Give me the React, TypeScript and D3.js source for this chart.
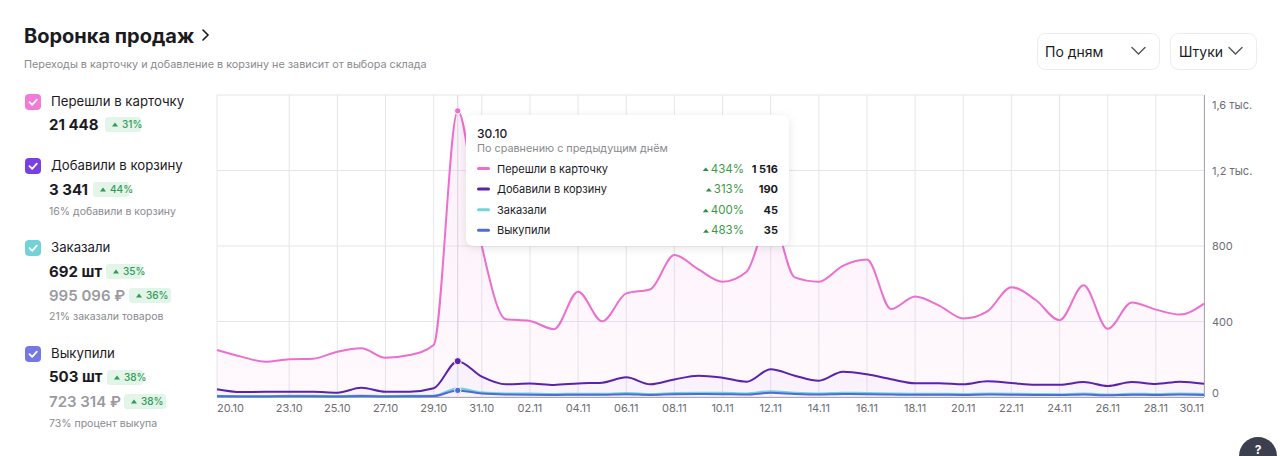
import React from "react";
import * as d3 from "d3";

// 20.10 – 30.11
const dates = [
  "20.10", "21.10", "22.10", "23.10", "24.10", "25.10", "26.10", "27.10", "28.10", "29.10", "30.10", "31.10",
  "01.11", "02.11", "03.11", "04.11", "05.11", "06.11", "07.11", "08.11", "09.11", "10.11", "11.11", "12.11",
  "13.11", "14.11", "15.11", "16.11", "17.11", "18.11", "19.11", "20.11", "21.11", "22.11", "23.11", "24.11",
  "25.11", "26.11", "27.11", "28.11", "29.11", "30.11",
];

const clicks = [
  249, 214, 187, 200, 203, 240, 258, 208, 222, 275, 1516, 800,
  412, 403, 359, 558, 401, 549, 571, 752, 676, 611, 664, 960,
  634, 611, 695, 728, 466, 533, 484, 416, 454, 582, 515, 407,
  592, 361, 501, 463, 437, 495,
];
const carts = [
  41, 26, 28, 28, 28, 23, 49, 28, 28, 46, 190, 108,
  67, 72, 64, 72, 76, 104, 67, 93, 113, 102, 81, 147,
  113, 86, 134, 120, 94, 73, 73, 67, 83, 74, 65, 65,
  79, 58, 79, 69, 81, 70,
];
const orders = [
  5, 4, 4, 5, 5, 4, 7, 4, 5, 6, 45, 24,
  18, 17, 15, 16, 16, 20, 15, 20, 22, 21, 18, 30,
  22, 18, 22, 20, 18, 16, 16, 15, 17, 16, 15, 14,
  17, 12, 16, 15, 17, 15,
];
const buyouts = [
  4, 3, 3, 4, 4, 3, 5, 3, 4, 5, 35, 18,
  13, 12, 11, 12, 12, 15, 11, 15, 16, 15, 13, 22,
  16, 13, 16, 15, 13, 12, 12, 11, 13, 12, 11, 10,
  13, 9, 12, 11, 13, 11,
];

const xTicks = [
  "20.10", "23.10", "25.10", "27.10", "29.10", "31.10", "02.11", "04.11", "06.11", "08.11", "10.11",
  "12.11", "14.11", "16.11", "18.11", "20.11", "22.11", "24.11", "26.11", "28.11", "30.11",
];
const yTicks = [0, 400, 800, 1200, 1600];
const yTickLabels = ["0", "400", "800", "1,2 тыс.", "1,6 тыс."];

const seriesNames = ["Перешли в карточку", "Добавили в корзину", "Заказали", "Выкупили"];
const lineColors = ["#ec6fcf", "#5a22ad", "#74d3d9", "#4f6bd6"];
const boxColors = ["#f27ad8", "#7a3fdf", "#72d2da", "#7477e6"];
const totals = ["21 448", "3 341", "692 шт", "503 шт"];
const totalPct = ["31%", "44%", "35%", "38%"];
const rubTotals = ["", "", "995 096 ₽", "723 314 ₽"];
const rubPct = ["", "", "36%", "38%"];
const notes = ["", "16% добавили в корзину", "21% заказали товаров", "73% процент выкупа"];

const hoverDate = "30.10";
const tooltipPct = ["434%", "313%", "400%", "483%"];
const tooltipVals = ["1 516", "190", "45", "35"];

const FONT = "Inter, 'Noto Sans', sans-serif";

let ctx: CanvasRenderingContext2D | null = null;
const measure = (s: string, font: string) => {
  if (!ctx) ctx = document.createElement("canvas").getContext("2d");
  if (!ctx) return s.length * 7;
  ctx.font = font;
  return ctx.measureText(s).width;
};

const Badge = ({ x, y, w, text }: { x: number; y: number; w: number; text: string }) => (
  <g>
    <rect x={x} y={y} width={w} height={15} rx={3} fill="#e3f4e9" />
    <path d={`M${x + 7},${y + 9.5} L${x + 10},${y + 5.5} L${x + 13},${y + 9.5} Z`} fill="#2e9c55" />
    <text x={x + 17} y={y + 10.8} fontSize={10} fill="#2e9c55" fontWeight={500}>{text}</text>
  </g>
);

const Check = ({ x, y, color }: { x: number; y: number; color: string }) => (
  <g>
    <rect x={x} y={y} width={16} height={16} rx={4} fill={color} />
    <path d={`M${x + 4.5},${y + 8.2} L${x + 7.2},${y + 10.8} L${x + 11.8},${y + 5.6}`} fill="none" stroke="#fff" strokeWidth={1.8} strokeLinecap="round" strokeLinejoin="round" />
  </g>
);

export default function App() {
  const left = 217, right = 1204, top = 95, bottom = 397;
  const x = d3.scalePoint<string>().domain(dates).range([left, right]);
  const y = d3.scaleLinear().domain([0, 1600]).range([bottom, top]);
  const series = [clicks, carts, orders, buyouts];

  const line = d3.line<number>()
    .x((_, i) => x(dates[i]) as number)
    .y((d) => y(d))
    .curve(d3.curveMonotoneX);
  const area = d3.area<number>()
    .x((_, i) => x(dates[i]) as number)
    .y0(y(0))
    .y1((d) => y(d))
    .curve(d3.curveMonotoneX);

  const hi = dates.indexOf(hoverDate);
  const hx = x(hoverDate) as number;

  // legend layout rows
  const blocks = [
    { box: 94, val: 125, badge: 105, rub: 0, rubBadge: 0, note: 0 },
    { box: 158, val: 190, badge: 93, rub: 0, rubBadge: 0, note: 211 },
    { box: 240, val: 272, badge: 106, rub: 295, rubBadge: 129, note: 316 },
    { box: 346, val: 377, badge: 107, rub: 401, rubBadge: 124, note: 423 },
  ];
  const badgeY = [117, 182, 264, 370];
  const rubBadgeY = [0, 0, 288, 394];

  return (
    <div style={{ position: "absolute", left: 0, top: 0 }}>
      <svg width={1280} height={456} style={{ fontFamily: FONT, display: "block" }}>
        <defs>
          <linearGradient id="gPink" x1="0" y1={top} x2="0" y2={bottom} gradientUnits="userSpaceOnUse">
            <stop offset="0" stopColor="#ec6fcf" stopOpacity={0.11} />
            <stop offset="1" stopColor="#ec6fcf" stopOpacity={0.04} />
          </linearGradient>
          <linearGradient id="gPurple" x1="0" y1={300} x2="0" y2={bottom} gradientUnits="userSpaceOnUse">
            <stop offset="0" stopColor="#7a3fdf" stopOpacity={0.07} />
            <stop offset="1" stopColor="#7a3fdf" stopOpacity={0.03} />
          </linearGradient>
          <filter id="shadow" x="-10%" y="-20%" width="120%" height="150%">
            <feDropShadow dx="0" dy="2" stdDeviation="5" floodColor="#000" floodOpacity="0.1" />
          </filter>
        </defs>
        <rect width={1280} height={456} fill="#fff" />

        {/* header */}
        <text x={24} y={43} fontSize={20} fontWeight={700} fill="#1b1b1f">Воронка продаж</text>
        <path d="M203,30 L208,35 L203,40" fill="none" stroke="#1b1b1f" strokeWidth={1.6} strokeLinecap="round" />
        <text x={24} y={68} fontSize={10.8} fill="#8a8a8f">Переходы в карточку и добавление в корзину не зависит от выбора склада</text>

        {/* dropdowns */}
        <rect x={1037.5} y={33.5} width={122} height={36} rx={8} fill="#fff" stroke="#ececef" />
        <text x={1045} y={57} fontSize={14} fill="#1b1b1f">По дням</text>
        <path d="M1132,47.5 L1138.5,54 L1145,47.5" fill="none" stroke="#555" strokeWidth={1.4} strokeLinecap="round" />
        <rect x={1170.5} y={33.5} width={86} height={36} rx={8} fill="#fff" stroke="#ececef" />
        <text x={1179} y={57} fontSize={14} fill="#1b1b1f">Штуки</text>
        <path d="M1229,47.5 L1235.5,54 L1242,47.5" fill="none" stroke="#555" strokeWidth={1.4} strokeLinecap="round" />

        {/* legend */}
        {seriesNames.map((name, i) => {
          const b = blocks[i];
          return (
            <g key={name}>
              <Check x={25} y={b.box} color={boxColors[i]} />
              <text x={51} y={b.box + 12} fontSize={13.2} fill="#1b1b1f">{name}</text>
              <text x={49} y={b.val + 5} fontSize={15} fontWeight={700} fill="#1b1b1f">{totals[i]}</text>
              <Badge x={b.badge} y={badgeY[i]} w={36} text={totalPct[i]} />
              {rubTotals[i] && (
                <>
                  <text x={49} y={b.rub + 5.5} fontSize={15} fontWeight={600} fill="#9a9aa0">{rubTotals[i]}</text>
                  <Badge x={b.rubBadge} y={rubBadgeY[i]} w={42} text={rubPct[i]} />
                </>
              )}
              {notes[i] && (
                <text x={49} y={b.note + 4} fontSize={10.5} fill="#8a8a8f">{notes[i]}</text>
              )}
            </g>
          );
        })}

        {/* grid */}
        {yTicks.map((t) => (
          <line key={t} x1={left} x2={right} y1={y(t)} y2={y(t)} stroke="#e6e6ea" />
        ))}
        {xTicks.map((t) => (
          <line key={t} x1={x(t)} x2={x(t)} y1={top} y2={bottom} stroke="#e6e6ea" />
        ))}

        {/* areas */}
        <path d={area(clicks) || ""} fill="url(#gPink)" />
        <path d={area(carts) || ""} fill="url(#gPurple)" />

        {/* hover line */}
        <line x1={hx} x2={hx} y1={top} y2={bottom} stroke="#d6d6dc" />

        {/* axes */}
        <line x1={left} x2={right} y1={bottom + 0.5} y2={bottom + 0.5} stroke="#a8a8ae" />
        <line x1={right + 0.5} x2={right + 0.5} y1={top} y2={bottom} stroke="#a8a8ae" />

        {/* lines */}
        {series.map((s, i) => (
          <path key={i} d={line(s) || ""} fill="none" stroke={lineColors[i]} strokeWidth={i === 2 ? 2.4 : 2} />
        ))}

        {/* hover dots */}
        <circle cx={hx} cy={y(clicks[hi])} r={3.2} fill={lineColors[0]} stroke="#fff" strokeWidth={1} />
        <circle cx={hx} cy={y(carts[hi])} r={3.6} fill={lineColors[1]} stroke="#fff" strokeWidth={1} />
        <circle cx={hx} cy={y(buyouts[hi])} r={3.2} fill={lineColors[3]} stroke="#fff" strokeWidth={1} />

        {/* x labels */}
        {xTicks.map((t, i) => (
          <text
            key={t}
            x={x(t)}
            y={412}
            fontSize={11}
            fill="#6e6e74"
            textAnchor={i === 0 ? "start" : i === xTicks.length - 1 ? "end" : "middle"}
          >
            {t}
          </text>
        ))}

        {/* y labels */}
        {yTicks.map((t, i) => (
          <text
            key={t}
            x={1212}
            y={i === yTicks.length - 1 ? y(t) + 14 : i === 0 ? y(t) - 0 : y(t) + 4}
            fontSize={11}
            fill="#6e6e74"
          >
            {yTickLabels[i]}
          </text>
        ))}

        {/* tooltip */}
        <g>
          <rect x={466} y={115} width={323} height={131} rx={8} fill="#fff" filter="url(#shadow)" />
          <text x={477} y={138} fontSize={12} fontWeight={500} fill="#1b1b1f">{hoverDate}</text>
          <text x={477} y={151.5} fontSize={10.8} fill="#8a8a8f">По сравнению с предыдущим днём</text>
          {seriesNames.map((name, i) => {
            const ry = 168.5 + i * 20.6;
            const pw = measure(tooltipPct[i], `11.5px ${FONT}`);
            const tx = 744 - pw - 5;
            return (
              <g key={name}>
                <rect x={477} y={ry - 1.5} width={13} height={3} rx={1.5} fill={lineColors[i]} />
                <text x={497} y={ry + 4} fontSize={11} fill="#1b1b1f">{name}</text>
                <path d={`M${tx - 3},${ry + 2.5} L${tx},${ry - 1} L${tx + 3},${ry + 2.5} Z`} fill="#2e8f3e" />
                <text x={744} y={ry + 4} fontSize={11.5} fill="#3a9a44" textAnchor="end">{tooltipPct[i]}</text>
                <text x={778} y={ry + 4} fontSize={11} fontWeight={700} fill="#1b1b1f" textAnchor="end">{tooltipVals[i]}</text>
              </g>
            );
          })}
        </g>

        {/* help button */}
        <circle cx={1258} cy={456} r={19} fill="#3b3f4e" />
        <text x={1258} y={454} fontSize={12} fontWeight={700} fill="#fff" textAnchor="middle">?</text>
      </svg>
    </div>
  );
}
